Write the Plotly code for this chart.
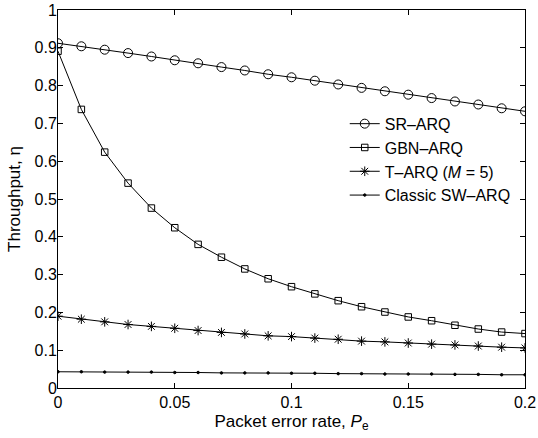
import plotly.graph_objects as go

pe = [0.00, 0.01, 0.02, 0.03, 0.04, 0.05, 0.06, 0.07, 0.08, 0.09, 0.10,
      0.11, 0.12, 0.13, 0.14, 0.15, 0.16, 0.17, 0.18, 0.19, 0.20]
sr_arq = [0.912, 0.904, 0.895, 0.886, 0.877, 0.867, 0.859, 0.849, 0.840, 0.830, 0.822,
          0.813, 0.803, 0.794, 0.785, 0.776, 0.767, 0.758, 0.750, 0.740, 0.732]
gbn_arq = [0.891, 0.737, 0.624, 0.542, 0.476, 0.424, 0.380, 0.346, 0.315, 0.289, 0.268,
           0.249, 0.231, 0.215, 0.201, 0.188, 0.178, 0.166, 0.156, 0.148, 0.144]
t_arq = [0.190, 0.182, 0.175, 0.168, 0.163, 0.158, 0.152, 0.147, 0.143, 0.138, 0.136,
         0.132, 0.129, 0.124, 0.122, 0.119, 0.116, 0.114, 0.111, 0.108, 0.106]
sw_arq = [0.043, 0.043, 0.042, 0.042, 0.042, 0.041, 0.041, 0.040, 0.040, 0.040, 0.039,
          0.039, 0.038, 0.038, 0.037, 0.037, 0.037, 0.036, 0.036, 0.035, 0.035]

x_ticks = [0, 0.05, 0.1, 0.15, 0.2]
x_labels = ["0", "0.05", "0.1", "0.15", "0.2"]
y_ticks = [0, 0.1, 0.2, 0.3, 0.4, 0.5, 0.6, 0.7, 0.8, 0.9, 1]
y_labels = ["0", "0.1", "0.2", "0.3", "0.4", "0.5", "0.6", "0.7", "0.8", "0.9", "1"]

names = ["SR–ARQ", "GBN–ARQ", "T–ARQ (<i>M</i> = 5)", "Classic SW–ARQ"]
series = [sr_arq, gbn_arq, t_arq, sw_arq]
symbols = ["circle-open", "square-open", "asterisk-open", "circle"]
sizes = [9, 6.5, 8, 2.5]

fig = go.Figure()
for name, ys, sym, sz in zip(names, series, symbols, sizes):
    fig.add_trace(go.Scatter(
        x=pe, y=ys, name=name, mode="lines+markers",
        line=dict(color="black", width=1),
        marker=dict(symbol=sym, size=sz, color="black",
                    line=dict(color="black", width=1)),
    ))

font = "Liberation Sans, Arial, Helvetica, sans-serif"
axis_common = dict(
    showline=True, linecolor="black", linewidth=1, mirror="allticks",
    ticks="inside", ticklen=5, tickcolor="black", tickwidth=1,
    showgrid=False, zeroline=False, automargin=False,
    tickfont=dict(family=font, size=16, color="black"),
)
fig.update_xaxes(range=[0, 0.2], tickvals=x_ticks, ticktext=x_labels,
                 title=dict(text="Packet error rate, <i>P</i><sub>e</sub>",
                            font=dict(family=font, size=17, color="black"), standoff=4),
                 **axis_common)
fig.update_yaxes(range=[0, 1], tickvals=y_ticks, ticktext=y_labels,
                 ticklabelstandoff=-3,
                 title=dict(text="Throughput, η",
                            font=dict(family=font, size=17, color="black"), standoff=9),
                 **axis_common)

fig.update_layout(
    width=538, height=438,
    margin=dict(l=58, r=13, t=10, b=50),
    paper_bgcolor="white", plot_bgcolor="white",
    font=dict(family=font, size=16, color="black"),
    showlegend=True,
    legend=dict(x=0.614, y=0.744, xanchor="left", yanchor="top",
                bgcolor="rgba(0,0,0,0)", borderwidth=0,
                font=dict(family=font, size=16, color="black"),
                tracegroupgap=0, itemwidth=30),
)

fig.write_html("out.html", config={"displayModeBar": False},
               post_script="document.body.style.margin='0';")
